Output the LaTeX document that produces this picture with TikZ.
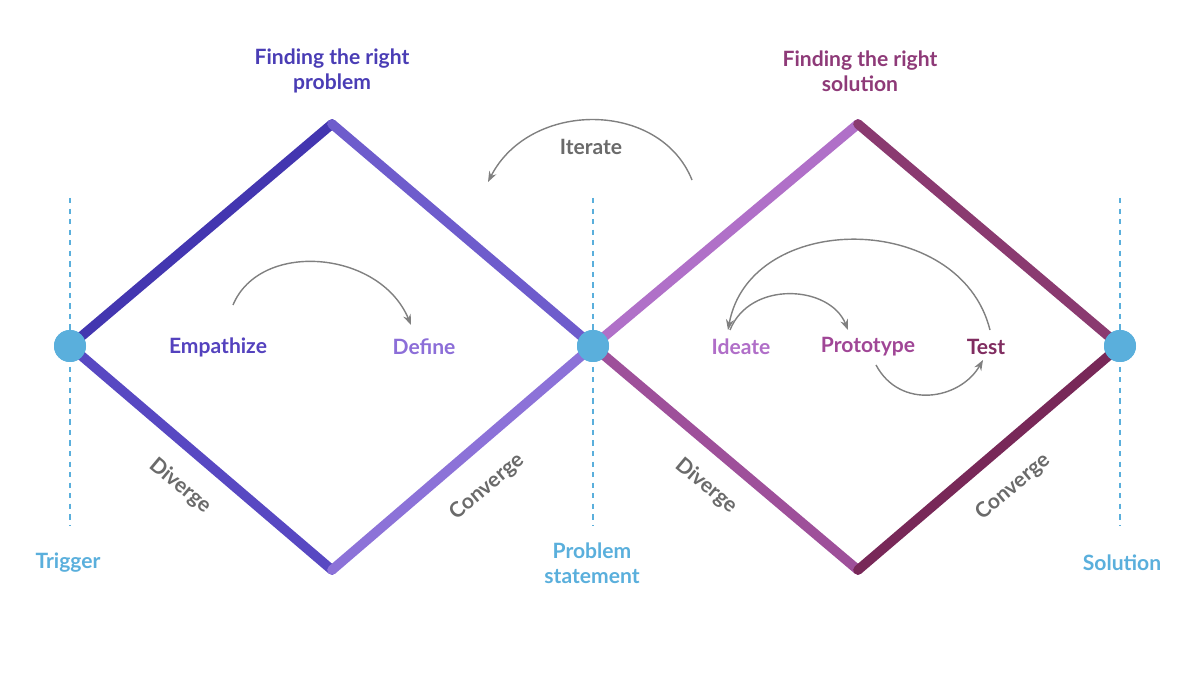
\documentclass[tikz,border=0pt]{standalone}
\usepackage{fontspec}
\setmainfont{Lato}
\usetikzlibrary{arrows.meta}
\definecolor{dotblue}{HTML}{5AAFDC}
\definecolor{txtgrey}{HTML}{6A6A6A}
\definecolor{probcol}{HTML}{4A3DB5}
\definecolor{solcol}{HTML}{8E3A78}
\begin{document}
\begin{tikzpicture}[x=0.02cm,y=-0.02cm,
  edge/.style={line width=5.5pt,line cap=round},
  guide/.style={dotblue,dashed,line width=0.8pt},
  stage/.style={dotblue,circle,fill,minimum size=32*0.02cm,inner sep=0pt},
  phase/.style={font=\bfseries\large},
  side/.style={txtgrey,font=\bfseries\large},
  hop/.style={gray,line width=0.8pt,-{Stealth[length=6pt]}}]
\useasboundingbox (0,0) rectangle (1200,675);
% guides
\foreach \x in {70,593,1120}
  \draw[guide] (\x,198) -- (\x,525);
% diamonds
\coordinate (lt) at (332,124); \coordinate (lb) at (332,570);
\coordinate (rt) at (858,124); \coordinate (rb) at (858,570);
\node[stage] (trig) at (70,346) {};
\node[stage] (stmt) at (593,346) {};
\node[stage] (sol) at (1120,346) {};
\draw[edge,color={rgb,255:red,67;green,54;blue,176}] (trig.center) -- (lt);
\draw[edge,color={rgb,255:red,110;green,92;blue,204}] (lt) -- (stmt.center);
\draw[edge,color={rgb,255:red,88;green,72;blue,194}] (trig.center) -- (lb);
\draw[edge,color={rgb,255:red,140;green,114;blue,216}] (lb) -- (stmt.center);
\draw[edge,color={rgb,255:red,176;green,112;blue,200}] (stmt.center) -- (rt);
\draw[edge,color={rgb,255:red,158;green,80;blue,154}] (stmt.center) -- (rb);
\draw[edge,color={rgb,255:red,138;green,58;blue,112}] (rt) -- (sol.center);
\draw[edge,color={rgb,255:red,120;green,40;blue,88}] (rb) -- (sol.center);
\node[stage] at (trig) {};
\node[stage] at (stmt) {};
\node[stage] at (sol) {};
% titles
\node[probcol,font=\bfseries\large,align=center] at (332,71) {Finding the right\\problem};
\node[solcol,font=\bfseries\large,align=center] at (860,71) {Finding the right\\solution};
\node[dotblue,font=\bfseries\large] (trigtxt) at (68,563) {Trigger};
\node[dotblue,font=\bfseries\large,align=center] (stmttxt) at (592,563) {Problem\\statement};
\node[dotblue,font=\bfseries\large] (soltxt) at (1122,563) {Solution};
% phases
\node[phase,color={rgb,255:red,84;green,66;blue,190}] (emp) at (218,347) {Empathize};
\node[phase,color={rgb,255:red,140;green,110;blue,216}] (def) at (424,347) {Define};
\node[phase,color={rgb,255:red,176;green,110;blue,200}] (idea) at (741,347) {Ideate};
\node[phase,color={rgb,255:red,160;green,70;blue,150}] (proto) at (868,347) {Prototype};
\node[phase,color={rgb,255:red,128;green,44;blue,96}] (test) at (986,347) {Test};
% sides
\node[side,rotate=-40] at (180,486) {Diverge};
\node[side,rotate=40] at (487,487) {Converge};
\node[side,rotate=-40] at (706,486) {Diverge};
\node[side,rotate=40] at (1013,487) {Converge};
% loops
\coordinate (itA) at (692,180); \coordinate (itB) at (488,182);
\draw[hop] (itA) .. controls (660,100) and (530,100) .. (itB);
\node[txtgrey,font=\bfseries\large] (iter) at (591,147) {Iterate};
\draw[hop] (233,305) .. controls (260,240) and (380,250) .. (411,325);
\draw[hop] (730,330) .. controls (750,280) and (830,285) .. (848,330);
\draw[hop] (990,330) .. controls (960,210) and (750,210) .. (728,330);
\draw[hop] (876,365) .. controls (900,410) and (960,400) .. (983,360);
\end{tikzpicture}
\end{document}
